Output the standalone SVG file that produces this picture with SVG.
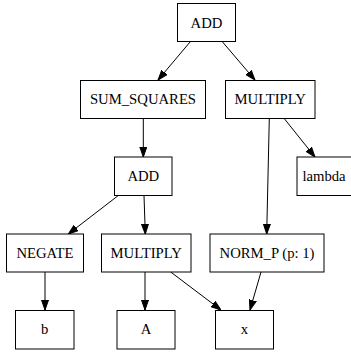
<svg xmlns="http://www.w3.org/2000/svg" width="351" height="354" viewBox="0 0 351 354">
<style>
.n rect{fill:#fff;stroke:#000;stroke-width:1}
.n text{font-family:"Liberation Serif","Times New Roman",serif;font-size:14.7px;text-anchor:middle;fill:#000}
.e line{stroke:#000;stroke-width:1;marker-end:url(#ah)}
</style>
<defs>
<marker id="ah" markerUnits="userSpaceOnUse" markerWidth="10" markerHeight="8" refX="10" refY="3.5" orient="auto" viewBox="0 0 10 7">
<path d="M0,0 L10,3.5 L0,7 z" fill="#000" stroke="#000"/>
</marker>
</defs>
<rect width="351" height="354" fill="#fff"/>
<g id="edges" class="e">
<line x1="190.3" y1="41.7" x2="158" y2="80"/>
<line x1="222.3" y1="41.7" x2="255" y2="80"/>
<line x1="143.3" y1="118.3" x2="143.3" y2="157"/>
<line x1="269.3" y1="118.3" x2="266.7" y2="234"/>
<line x1="284" y1="118.3" x2="315" y2="157"/>
<line x1="118.3" y1="195.5" x2="68.3" y2="234"/>
<line x1="144" y1="195.5" x2="145.3" y2="234"/>
<line x1="45" y1="272" x2="45" y2="310"/>
<line x1="145" y1="272" x2="145" y2="310"/>
<line x1="170.7" y1="272" x2="221" y2="310"/>
<line x1="261" y1="272" x2="250" y2="310"/>
</g>
<g id="add_top" class="n"><rect x="177.5" y="3.5" width="58" height="38"/><text x="206.5" y="27.5">ADD</text></g>
<g id="sum_squares" class="n"><rect x="80.5" y="80.5" width="125" height="38"/><text x="143" y="104">SUM_SQUARES</text></g>
<g id="multiply_top" class="n"><rect x="225.5" y="80.5" width="89.5" height="38"/><text x="270.2" y="104">MULTIPLY</text></g>
<g id="add_mid" class="n"><rect x="114.5" y="157" width="57.5" height="38.5"/><text x="143.3" y="181">ADD</text></g>
<g id="lambda" class="n"><rect x="297" y="157" width="60" height="38.5"/><text x="324" y="181">lambda</text></g>
<g id="negate" class="n"><rect x="6.5" y="234" width="77" height="38"/><text x="45" y="257.5">NEGATE</text></g>
<g id="multiply_mid" class="n"><rect x="101.5" y="234" width="89.5" height="38"/><text x="146.2" y="257.5">MULTIPLY</text></g>
<g id="norm_p" class="n"><rect x="210" y="234" width="114" height="38"/><text x="267" y="257.5">NORM_P (p: 1)</text></g>
<g id="b" class="n"><rect x="15.5" y="310.5" width="58.5" height="38.5"/><text x="44.7" y="334">b</text></g>
<g id="A" class="n"><rect x="117" y="310.5" width="58" height="38.5"/><text x="146" y="334">A</text></g>
<g id="x" class="n"><rect x="215.5" y="310.5" width="58" height="38.5"/><text x="244.5" y="334">x</text></g>
</svg>
